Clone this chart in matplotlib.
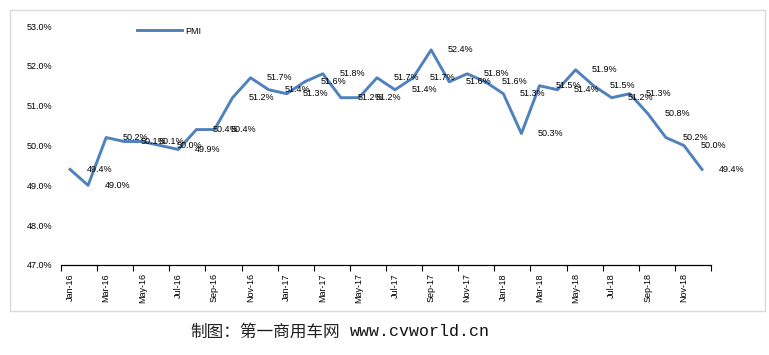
import matplotlib.pyplot as plt
from matplotlib.patches import Rectangle

months = ['Jan-16', 'Feb-16', 'Mar-16', 'Apr-16', 'May-16', 'Jun-16', 'Jul-16', 'Aug-16', 'Sep-16', 'Oct-16', 'Nov-16', 'Dec-16',
          'Jan-17', 'Feb-17', 'Mar-17', 'Apr-17', 'May-17', 'Jun-17', 'Jul-17', 'Aug-17', 'Sep-17', 'Oct-17', 'Nov-17', 'Dec-17',
          'Jan-18', 'Feb-18', 'Mar-18', 'Apr-18', 'May-18', 'Jun-18', 'Jul-18', 'Aug-18', 'Sep-18', 'Oct-18', 'Nov-18', 'Dec-18']
pmi = [49.4, 49.0, 50.2, 50.1, 50.1, 50.0, 49.9, 50.4, 50.4, 51.2, 51.7, 51.4,
       51.3, 51.6, 51.8, 51.2, 51.2, 51.7, 51.4, 51.7, 52.4, 51.6, 51.8, 51.6,
       51.3, 50.3, 51.5, 51.4, 51.9, 51.5, 51.2, 51.3, 50.8, 50.2, 50.0, 49.4]
y_ticks = [47, 48, 49, 50, 51, 52, 53]

W, H = 769, 355
fig = plt.figure(figsize=(W / 100, H / 100), dpi=100)
ax = fig.add_axes([61 / W, 1 - 265 / H, 650 / W, 239 / H])

font = 'Liberation Sans'
fs = 6.5
color = '#4F81BD'
x = list(range(len(months)))

line, = ax.plot(x, pmi, color=color, linewidth=2.1, label='PMI')

# data labels, shifted right like the original
for xi, v in zip(x, pmi):
    ax.annotate(f'{v:.1f}%', (xi, v), xytext=(21, 0), textcoords='offset points',
                ha='center', va='center', fontsize=fs, family=font, color='black')

ax.set_xlim(-0.5, len(months) - 0.5)
ax.set_ylim(47, 53)
ax.set_yticks(y_ticks)
ax.set_yticklabels([f'{t:.1f}%' for t in y_ticks], fontsize=fs, family=font)
ax.tick_params(axis='y', length=0, pad=6)

# tick marks on category boundaries, labels every second month
ax.set_xticks([i - 0.5 for i in range(0, len(months) + 1, 2)], minor=False)
ax.set_xticklabels([])
ax.set_xticks(x[::2], minor=True)
ax.set_xticklabels(months[::2], minor=True, rotation=90, fontsize=fs, family=font)
ax.tick_params(axis='x', which='major', length=4, width=0.8, direction='out')
ax.tick_params(axis='x', which='minor', length=0, pad=6)

for s in ['top', 'right', 'left']:
    ax.spines[s].set_visible(False)
ax.spines['bottom'].set_linewidth(0.9)

fig.legend(handles=[line], loc='center left', bbox_to_anchor=(137 / W, 1 - 31 / H),
           frameon=False, prop={'family': font, 'size': fs},
           handlelength=5.0, handletextpad=0.4, borderpad=0, borderaxespad=0)

fig.add_artist(Rectangle((10 / W, 1 - 311 / H), 755 / W, 301 / H, transform=fig.transFigure,
                         fill=False, edgecolor='#d9d9d9', linewidth=1))

fig.text(190 / W, 1 - 332 / H, '制图：第一商用车网', fontsize=12, family=['Noto Sans CJK SC', 'DejaVu Sans'],
         ha='left', va='center', color='#222222')
fig.text(350 / W, 1 - 332 / H, 'www.cvworld.cn', fontsize=12, family='Liberation Mono',
         ha='left', va='center', color='#111111')

fig.savefig('out.png', dpi=100)
